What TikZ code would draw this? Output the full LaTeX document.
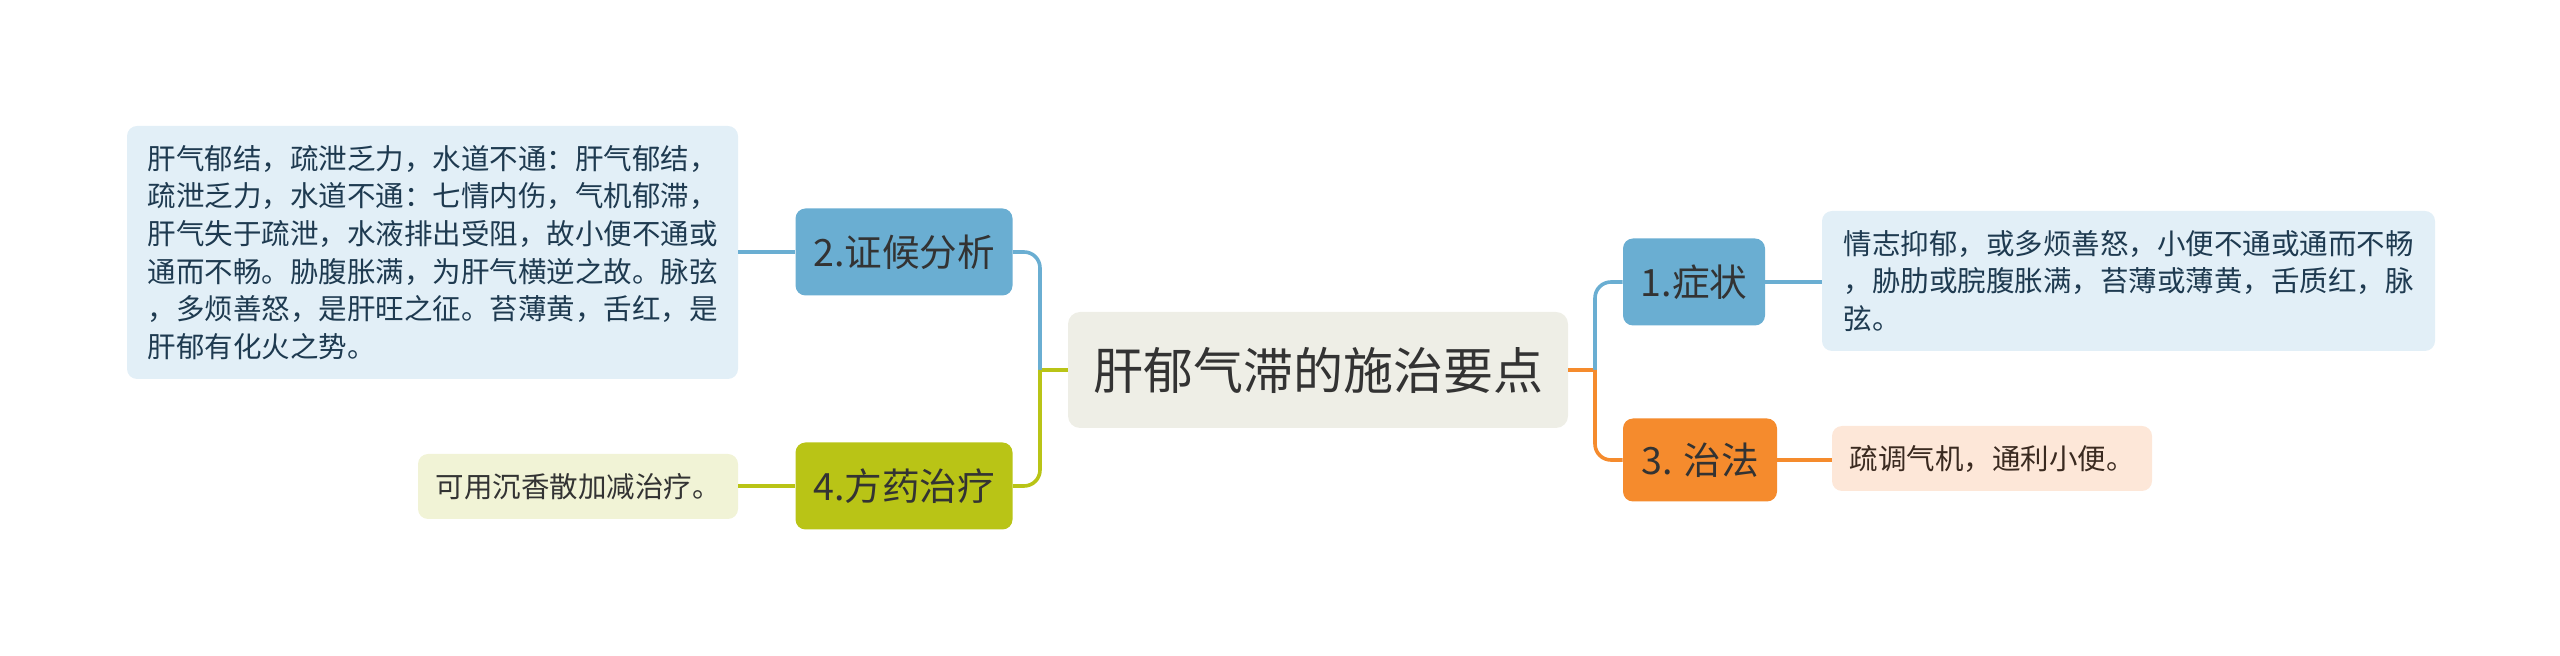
\documentclass[tikz,border=0pt]{standalone}
\usepackage{fontspec}
\newfontfamily\cjk{Noto Sans CJK SC}

\definecolor{rootbg}{HTML}{EEEEE6}
\definecolor{darktext}{HTML}{333333}
\definecolor{bluetopic}{HTML}{6AAED2}
\definecolor{blueleaf}{HTML}{E2EFF7}
\definecolor{bluetext}{HTML}{1E3A50}
\definecolor{olivetopic}{HTML}{B9C416}
\definecolor{oliveleaf}{HTML}{F1F3D6}
\definecolor{orangetopic}{HTML}{F58B2D}
\definecolor{orangeleaf}{HTML}{FDE7D8}
\definecolor{browntext}{HTML}{3A2A20}

\tikzset{
  root/.style={fill=rootbg, text=darktext, rounded corners=6pt,
    minimum width=250pt, minimum height=58pt,
    font=\cjk\fontsize{25}{30}\selectfont},
  topic/.style={rounded corners=5pt, text=darktext, minimum height=43.5pt,
    inner xsep=2pt, font=\cjk\fontsize{18.8}{22}\selectfont},
  leaf/.style={rounded corners=5pt, align=left, inner sep=0pt,
    font=\cjk\fontsize{14.25}{18.8}\selectfont},
  link/.style={line width=1.8pt, rounded corners=8pt},
}

\begin{document}
\begin{tikzpicture}[x=0.5pt,y=-0.5pt]
\useasboundingbox (0,0) rectangle (2560,656);

% centre
\node[root] (root) at (1318,370) {肝郁气滞的施治要点};

% left side
\node[topic, fill=bluetopic, minimum width=108.5pt] (zhenghou) at (904,252) {2.证候分析};
\node[topic, fill=olivetopic, minimum width=108.5pt] (fangyao) at (904,486) {4.方药治疗};
\node[leaf, fill=blueleaf, text=bluetext, minimum width=305.5pt, minimum height=126.5pt]
  (zhenghouleaf) at (432.5,252.5)
  {肝气郁结，疏泄乏力，水道不通：肝气郁结，\\
   疏泄乏力，水道不通：七情内伤，气机郁滞，\\
   肝气失于疏泄，水液排出受阻，故小便不通或\\
   通而不畅。胁腹胀满，为肝气横逆之故。脉弦\\
   ，多烦善怒，是肝旺之征。苔薄黄，舌红，是\\
   肝郁有化火之势。};
\node[leaf, fill=oliveleaf, text=darktext, minimum width=160pt, minimum height=32.5pt]
  (fangyaoleaf) at (578,486.5) {可用沉香散加减治疗。};

% right side
\node[topic, fill=bluetopic, minimum width=71pt] (zhengzhuang) at (1694,282) {1.症状};
\node[topic, fill=orangetopic, minimum width=77pt, minimum height=41.5pt] (zhifa) at (1700,460) {3. 治法};
\node[leaf, fill=blueleaf, text=bluetext, minimum width=306.5pt, minimum height=70pt]
  (zhengzhuangleaf) at (2128.5,281)
  {情志抑郁，或多烦善怒，小便不通或通而不畅\\
   ，胁肋或脘腹胀满，苔薄或薄黄，舌质红，脉\\
   弦。};
\node[leaf, fill=orangeleaf, text=browntext, minimum width=160pt, minimum height=32.5pt]
  (zhifaleaf) at (1992,458.5) {疏调气机，通利小便。};

% connectors
\coordinate (ltrunk) at (1040,370);
\coordinate (rtrunk) at (1595,370);
\draw[link, olivetopic] (root.west) -- (ltrunk);
\draw[link, bluetopic] (ltrunk) |- (zhenghou.east);
\draw[link, olivetopic] (ltrunk) |- (fangyao.east);
\draw[link, orangetopic] (root.east) -- (rtrunk);
\draw[link, bluetopic] (rtrunk) |- (zhengzhuang.west);
\draw[link, orangetopic] (rtrunk) |- (zhifa.west);

\draw[link, bluetopic] (zhenghou.west) -- (zhenghou.west -| zhenghouleaf.east);
\draw[link, olivetopic] (fangyao.west) -- (fangyao.west -| fangyaoleaf.east);
\draw[link, bluetopic] (zhengzhuang.east) -- (zhengzhuang.east -| zhengzhuangleaf.west);
\draw[link, orangetopic] (zhifa.east) -- (zhifa.east -| zhifaleaf.west);
\end{tikzpicture}
\end{document}
